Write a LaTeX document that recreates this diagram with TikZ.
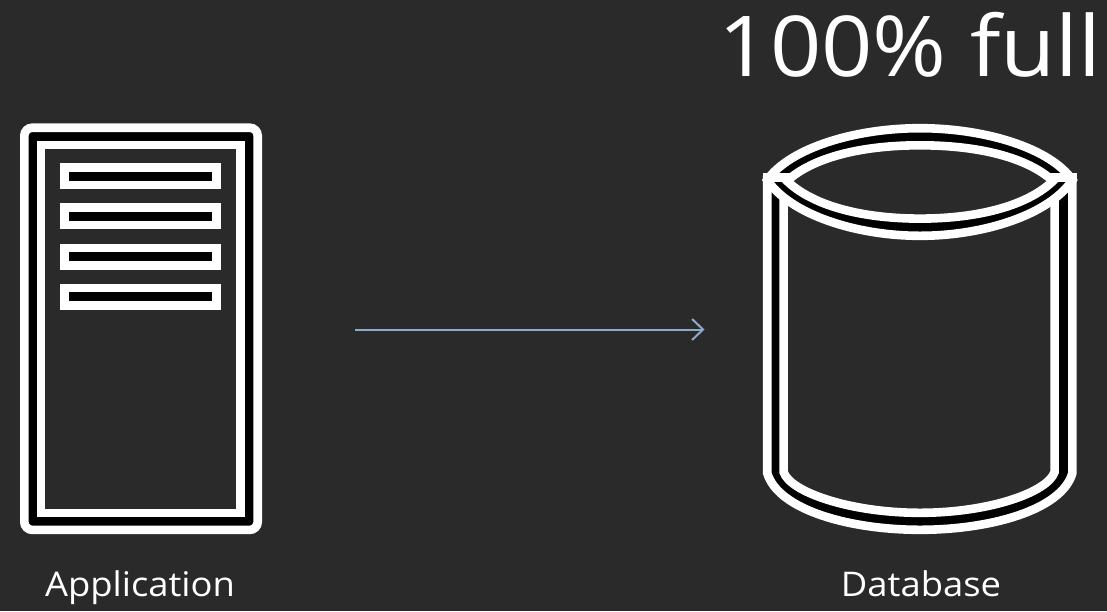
\documentclass[tikz,border=0pt]{standalone}
\usepackage{fontspec}
\setmainfont{Open Sans}
\newfontfamily\widefont[FakeStretch=1.07]{Open Sans}
\usetikzlibrary{arrows.meta}
\definecolor{bgc}{HTML}{2A2A2A}
\definecolor{flowc}{HTML}{8FA9C9}
\tikzset{
  band/.style={draw=white,line width=8.6pt,line join=miter},
  outerb/.style={band,fill=black},
  innerb/.style={band,fill=bgc},
  rowbar/.style={outerb,rectangle,minimum width=152.4pt,minimum height=17.4pt,inner sep=0pt,outer sep=0pt},
  label/.style={text=white,font=\widefont\fontsize{34}{40}\selectfont,inner sep=0pt,anchor=base},
  flow/.style={draw=flowc,line width=2pt,-{Straight Barb[length=11pt,width=21pt,line width=2pt]}}
}
\begin{document}
\begin{tikzpicture}[x=1pt,y=-1pt]
\useasboundingbox[fill=bgc] (0,0) rectangle (1107,611);
% Application
\node (app) [outerb,rectangle,rounded corners=8pt,minimum width=233.4pt,minimum height=402.2pt,inner sep=0pt,outer sep=0pt] at (141,328.8) {};
\node (appin) [innerb,rectangle,minimum width=199.6pt,minimum height=367.8pt,inner sep=0pt,outer sep=0pt] at (140.8,328.9) {};
\node (r1) [rowbar] at (140.5,176.4) {};
\node (r2) [rowbar] at (140.5,216.4) {};
\node (r3) [rowbar] at (140.5,256.6) {};
\node (r4) [rowbar] at (140.5,296.6) {};
% Database body
\draw[outerb] (767.2,180) -- (767.2,473) .. controls (778,510) and (850,529.8) .. (920,529.8) .. controls (990,529.8) and (1062,510) .. (1072.4,473) -- (1072.4,180) -- cycle;
\draw[innerb] (783.6,180) -- (783.6,472) .. controls (790,492) and (850,512.8) .. (920,512.8) .. controls (990,512.8) and (1048,492) .. (1054.6,472) -- (1054.6,180) -- cycle;
% Database top
\draw[outerb] (767.2,180) .. controls (790,148) and (855,128.2) .. (920,128.2) .. controls (985,128.2) and (1050,148) .. (1072.4,180) .. controls (1050,214) and (985,235.8) .. (920,235.8) .. controls (855,235.8) and (790,214) .. (767.2,180) -- cycle;
\draw[innerb] (787,181) .. controls (812,158) and (860,145.3) .. (920,145.3) .. controls (980,145.3) and (1028,158) .. (1053,181) .. controls (1028,205) and (980,218.6) .. (920,218.6) .. controls (860,218.6) and (812,205) .. (787,181) -- cycle;
\draw[band] (763,177.4) -- (790,177.4);
\draw[band] (1050,177.4) -- (1076.6,177.4);
% Labels
\node (title) [label,font=\widefont\fontsize{84}{100}\selectfont] at (910,76) {100\% full};
\node (applabel) [label] at (140,596) {Application};
\node (dblabel) [label] at (921,596) {Database};
% Arrow
\coordinate (from) at (355,329.5);
\coordinate (to) at (704.5,329.5);
\draw[flow] (from) -- (to);
\end{tikzpicture}
\end{document}
